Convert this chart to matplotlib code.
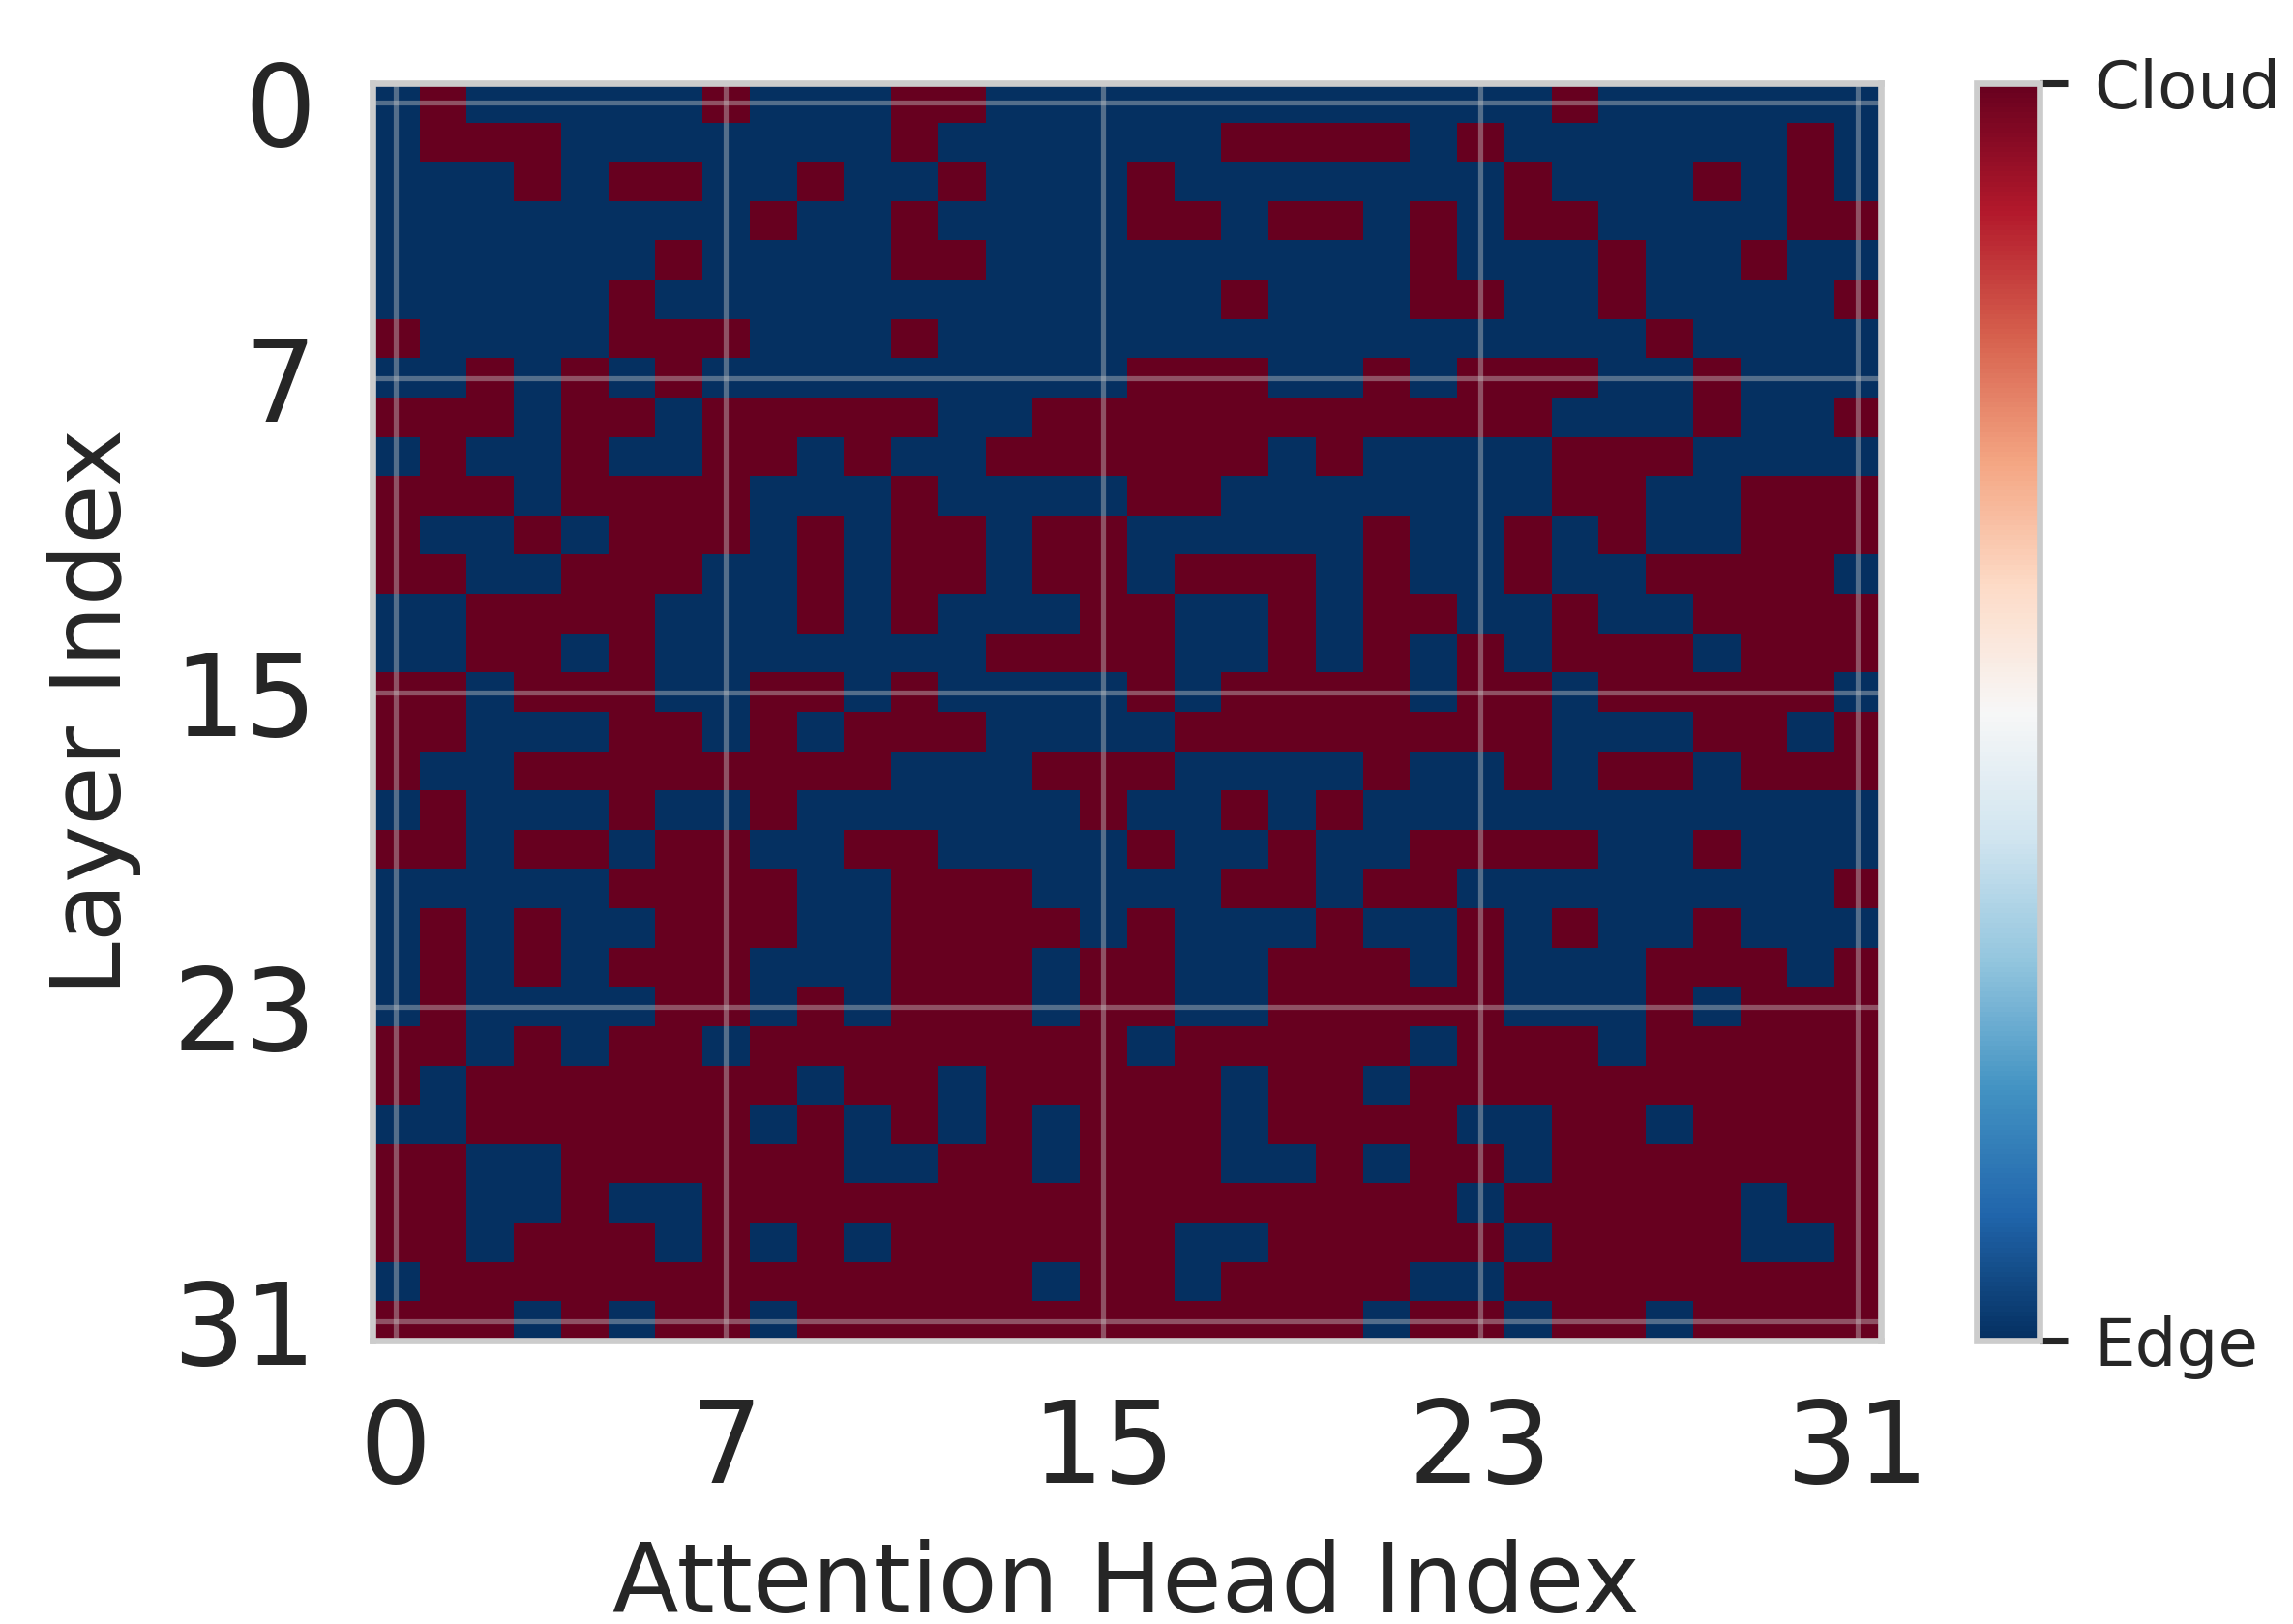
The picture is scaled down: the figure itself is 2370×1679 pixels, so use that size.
"""Layer / attention-head placement map (edge vs cloud)."""
import matplotlib
matplotlib.use("Agg")   # headless
import matplotlib.pyplot as plt
import numpy as np

# head indices placed on the cloud, one list per layer (all others are edge)
cloud_heads = [
    [1, 7, 11, 12, 25],
    [1, 2, 3, 11, 18, 19, 20, 21, 23, 30],
    [3, 5, 6, 9, 12, 16, 24, 28, 30],
    [8, 11, 16, 17, 19, 20, 22, 24, 25, 30, 31],
    [6, 11, 12, 22, 26, 29],
    [5, 18, 22, 23, 26, 31],
    [0, 5, 6, 7, 11, 27],
    [2, 4, 6, 16, 17, 18, 21, 23, 24, 25, 28],
    [0, 1, 2, 4, 5, 7, 8, 9, 10, 11, 14, 15, 16, 17, 18, 19, 20, 21, 22, 23, 24, 28, 31],
    [1, 4, 7, 8, 10, 13, 14, 15, 16, 17, 18, 20, 25, 26, 27],
    [0, 1, 2, 4, 5, 6, 7, 11, 16, 17, 25, 26, 29, 30, 31],
    [0, 3, 5, 6, 7, 9, 11, 12, 14, 15, 21, 24, 26, 29, 30, 31],
    [0, 1, 4, 5, 6, 9, 11, 12, 14, 15, 17, 18, 19, 21, 24, 27, 28, 29, 30],
    [2, 3, 4, 5, 9, 11, 15, 16, 19, 21, 22, 25, 28, 29, 30, 31],
    [2, 3, 5, 13, 14, 15, 16, 19, 21, 23, 25, 26, 27, 29, 30, 31],
    [0, 1, 3, 4, 5, 8, 9, 11, 16, 18, 19, 20, 21, 23, 24, 26, 27, 28, 29, 30],
    [0, 1, 5, 6, 8, 10, 11, 12, 17, 18, 19, 20, 21, 22, 23, 24, 28, 29, 31],
    [0, 3, 4, 5, 6, 7, 8, 9, 10, 14, 15, 16, 21, 24, 26, 27, 29, 30, 31],
    [1, 5, 8, 15, 18, 20],
    [0, 1, 3, 4, 6, 7, 10, 11, 16, 19, 22, 23, 24, 25, 28],
    [5, 6, 7, 8, 11, 12, 13, 18, 19, 21, 22, 31],
    [1, 3, 6, 7, 8, 11, 12, 13, 14, 16, 20, 23, 25, 28],
    [1, 3, 5, 6, 7, 11, 12, 13, 15, 16, 19, 20, 21, 23, 27, 28, 29, 31],
    [1, 6, 7, 9, 11, 12, 13, 15, 16, 19, 20, 21, 22, 23, 27, 29, 30, 31],
    [0, 1, 3, 5, 6, 8, 9, 10, 11, 12, 13, 14, 15, 17, 18, 19, 20, 21, 23, 24, 25, 27, 28, 29, 30, 31],
    [0, 2, 3, 4, 5, 6, 7, 8, 10, 11, 13, 14, 15, 16, 17, 19, 20, 22, 23, 24, 25, 26, 27, 28, 29, 30, 31],
    [2, 3, 4, 5, 6, 7, 9, 11, 13, 15, 16, 17, 19, 20, 21, 22, 25, 26, 28, 29, 30, 31],
    [0, 1, 4, 5, 6, 7, 8, 9, 12, 13, 15, 16, 17, 20, 22, 23, 25, 26, 27, 28, 29, 30, 31],
    [0, 1, 4, 7, 8, 9, 10, 11, 12, 13, 14, 15, 16, 17, 18, 19, 20, 21, 22, 24, 25, 26, 27, 28, 30, 31],
    [0, 1, 3, 4, 5, 7, 9, 11, 12, 13, 14, 15, 16, 19, 20, 21, 22, 23, 25, 26, 27, 28, 31],
    [1, 2, 3, 4, 5, 6, 7, 8, 9, 10, 11, 12, 13, 15, 16, 18, 19, 20, 21, 24, 25, 26, 27, 28, 29, 30, 31],
    [0, 1, 2, 4, 6, 7, 9, 10, 11, 12, 13, 14, 15, 16, 17, 18, 19, 20, 22, 23, 25, 26, 28, 29, 30, 31],
]
head_ticks = [0, 7, 15, 23, 31]
layer_ticks = [0, 7, 15, 23, 31]
cbar_ticks = [0, 1]
cbar_labels = ["Edge", "Cloud"]

TEXT = "#262626"
EDGE = "#cccccc"
W, H = 2370, 1679


def _px_axes(fig, x0, y0, x1, y1):
    """Axes from pixel box given from the top left of the image."""
    return fig.add_axes([x0 / W, 1 - y1 / H, (x1 - x0) / W, (y1 - y0) / H])


placement = np.zeros((len(cloud_heads), 32))
for layer, heads in enumerate(cloud_heads):
    placement[layer, heads] = 1

fig = plt.figure(figsize=(W / 300, H / 300), dpi=300)
ax = _px_axes(fig, 384.5, 86, 1944, 1386)
im = ax.imshow(placement, cmap="RdBu_r", vmin=0, vmax=1, aspect="auto",
               interpolation="nearest")
ax.set_xticks(head_ticks)
ax.set_yticks(layer_ticks)
ax.tick_params(length=0, labelsize=28, labelcolor=TEXT)
ax.tick_params(axis="x", pad=13.7)
ax.tick_params(axis="y", pad=13.8)
ax.grid(True, color="#cccccc", alpha=0.4, linewidth=1.25)
ax.set_xlabel("Attention Head Index", fontsize=24, color=TEXT, labelpad=7.8)
ax.set_ylabel("Layer Index", fontsize=24, color=TEXT, labelpad=7.8)
for spine in ax.spines.values():
    spine.set_color(EDGE)
    spine.set_linewidth(1.6)

cax = _px_axes(fig, 2042.5, 86, 2107.5, 1386)
cbar = fig.colorbar(im, cax=cax, ticks=cbar_ticks)
cbar.ax.set_yticklabels(cbar_labels)
cbar.ax.tick_params(length=7, width=1.7, color=TEXT, labelsize=16.2,
                    labelcolor=TEXT, pad=6.6)
cbar.outline.set_edgecolor(EDGE)
cbar.outline.set_linewidth(1.6)

fig.savefig("out.png", dpi=300)
